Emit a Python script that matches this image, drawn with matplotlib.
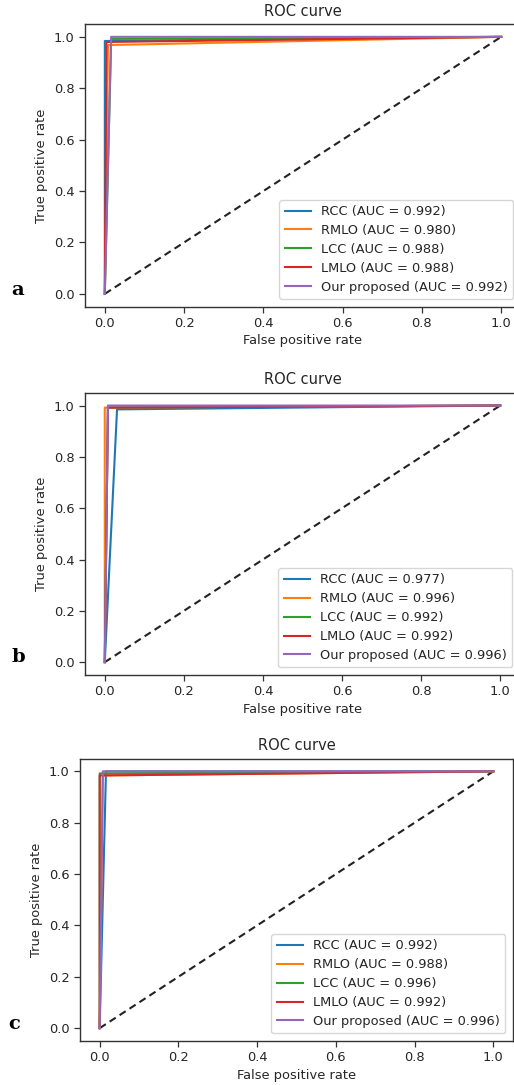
import matplotlib
matplotlib.use("Agg")
import matplotlib.pyplot as plt

labels = ['RCC', 'RMLO', 'LCC', 'LMLO', 'Our proposed']
colors = ['#1f77b4', '#ff7f0e', '#2ca02c', '#d62728', '#9467bd']

# panel a
a_fpr = [0.0, 0.008, 0.016, 0.004, 0.016]
a_tpr = [0.984, 0.968, 0.992, 0.980, 1.0]
a_auc = [0.992, 0.980, 0.988, 0.988, 0.992]
# panel b
b_fpr = [0.031, 0.0, 0.008, 0.008, 0.008]
b_tpr = [0.985, 0.992, 0.992, 0.992, 1.0]
b_auc = [0.977, 0.996, 0.992, 0.992, 0.996]
# panel c
c_fpr = [0.016, 0.008, 0.0, 0.0, 0.008]
c_tpr = [1.0, 0.984, 0.992, 0.984, 1.0]
c_auc = [0.992, 0.988, 0.996, 0.992, 0.996]

ticks = [0.0, 0.2, 0.4, 0.6, 0.8, 1.0]
panel_letters = ['a', 'b', 'c']

W, H = 514, 1085
fig = plt.figure(figsize=(W / 100, H / 100), dpi=100)

fs = 9.4
txt = '#262626'
rects = [
    (85 / W, (H - 306.7) / H, 436 / W, 282.7 / H),
    (85 / W, (H - 675) / H, 435 / W, 282.3 / H),
    (80 / W, (H - 1041) / H, 433 / W, 282.5 / H),
]
letter_pos = [(18, 290), (18, 657), (14, 1024)]
panels = [(a_fpr, a_tpr, a_auc), (b_fpr, b_tpr, b_auc), (c_fpr, c_tpr, c_auc)]

for rect, (fpr, tpr, auc), letter, lp in zip(rects, panels, panel_letters, letter_pos):
    ax = fig.add_axes(rect)
    ax.plot([0, 1], [0, 1], color='#222222', ls=(0, (3.5, 2.2)), lw=1.5)
    for lab, col, f, t, a in zip(labels, colors, fpr, tpr, auc):
        ax.plot([0, f, 1], [0, t, 1], color=col, lw=1.5,
                label='%s (AUC = %.3f)' % (lab, a))
    ax.set_xlim(-0.05, 1.05)
    ax.set_ylim(-0.05, 1.05)
    ax.set_xticks(ticks)
    ax.set_yticks(ticks)
    ax.tick_params(labelsize=fs, colors='#333333', labelcolor=txt, length=4, width=0.9)
    for sp in ax.spines.values():
        sp.set_color('#333333')
        sp.set_linewidth(1.0)
    ax.set_xlabel('False positive rate', fontsize=fs, color=txt, labelpad=3)
    ax.set_ylabel('True positive rate', fontsize=fs, color=txt)
    ax.set_title('ROC curve', fontsize=10.5, color=txt)
    leg = ax.legend(loc='lower right', fontsize=fs, labelspacing=0.45,
                    borderaxespad=0.6)
    for t in leg.get_texts():
        t.set_color(txt)
    fig.text(lp[0] / W, 1 - lp[1] / H, letter, fontsize=14, fontweight='bold',
             family='DejaVu Serif', ha='center', va='center')

fig.savefig('out.png', dpi=100)
